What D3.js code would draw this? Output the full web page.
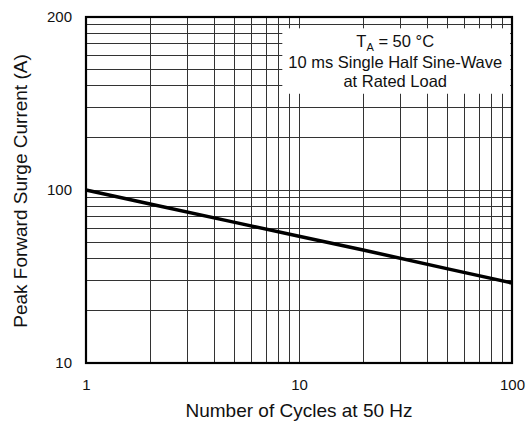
<!DOCTYPE html>
<html>
<head>
<meta charset="utf-8">
<script src="https://cdn.jsdelivr.net/npm/d3@7"></script>
<style>
  body { margin: 0; background: #fff; }
  text { font-family: "Liberation Sans", Arial, Helvetica, sans-serif; fill: #111; }
  .grid line { stroke: #333; stroke-width: 1; shape-rendering: crispEdges; }
</style>
</head>
<body>
<div id="chart"></div>
<script>
// surge curve
const cycles = [1, 2, 5, 10, 20, 50, 100];
const surgeCurrent = [100, 83, 65, 54, 45, 35, 29];

// axis ticks (the top label reads 200 on the original sheet)
const xTickValues = [1, 10, 100];
const xTickLabels = ["1", "10", "100"];
const yTickValues = [10, 100, 1000];
const yTickLabels = ["10", "100", "200"];

const noteLines = ["10 ms Single Half Sine-Wave", "at Rated Load"];

function renderChart() {
  const totalWidth = 527;
  const totalHeight = 421;
  const margin = { top: 17, right: 15, bottom: 58, left: 86 };
  const width = totalWidth - margin.left - margin.right;
  const height = totalHeight - margin.top - margin.bottom;

  const root = d3
    .select("#chart")
    .append("svg")
    .attr("width", totalWidth)
    .attr("height", totalHeight);

  const svg = root
    .append("g")
    .attr("transform", `translate(${margin.left},${margin.top})`);

  // Scales
  const x = d3.scaleLog().domain([1, 100]).range([0, width]);
  const y = d3.scaleLog().domain([10, 1000]).range([height, 0]);

  // minor + major grid, every integer step of each decade
  const xGrid = [];
  for (let d = 1; d < 100; d *= 10) {
    for (let k = 2; k <= 9; k++) xGrid.push(k * d);
  }
  xGrid.push(10);
  const yGrid = [];
  for (let d = 10; d < 1000; d *= 10) {
    for (let k = 2; k <= 9; k++) yGrid.push(k * d);
  }
  yGrid.push(100);

  svg
    .append("g")
    .attr("class", "grid")
    .selectAll("line")
    .data(xGrid)
    .enter()
    .append("line")
    .attr("x1", (d) => x(d))
    .attr("x2", (d) => x(d))
    .attr("y1", 0)
    .attr("y2", height);

  svg
    .append("g")
    .attr("class", "grid")
    .selectAll("line")
    .data(yGrid)
    .enter()
    .append("line")
    .attr("x1", 0)
    .attr("x2", width)
    .attr("y1", (d) => y(d))
    .attr("y2", (d) => y(d));

  // Note box (white patch over the grid)
  const boxX0 = x(8.35), boxX1 = x(98);
  const boxY0 = y(860), boxY1 = y(360);
  svg
    .append("rect")
    .attr("x", boxX0)
    .attr("y", boxY0)
    .attr("width", boxX1 - boxX0)
    .attr("height", boxY1 - boxY0)
    .attr("fill", "#fff");

  const noteX = (boxX0 + boxX1) / 2 - 1;
  const t1 = svg
    .append("text")
    .attr("x", noteX)
    .attr("y", boxY0 + 19)
    .attr("text-anchor", "middle")
    .attr("font-size", 16.5);
  t1.append("tspan").text("T");
  t1.append("tspan").attr("font-size", 11).attr("dy", 4).text("A");
  t1.append("tspan").attr("dy", -4).text(" = 50 °C");

  svg
    .selectAll(".note")
    .data(noteLines)
    .enter()
    .append("text")
    .attr("class", "note")
    .attr("x", noteX)
    .attr("y", (d, i) => boxY0 + 40 + i * 19)
    .attr("text-anchor", "middle")
    .attr("font-size", 16.5)
    .text((d) => d);

  // Curve
  const line = d3
    .line()
    .x((d) => x(d[0]))
    .y((d) => y(d[1]));

  svg
    .append("path")
    .datum(cycles.map((c, i) => [c, surgeCurrent[i]]))
    .attr("d", line)
    .attr("fill", "none")
    .attr("stroke", "#000")
    .attr("stroke-width", 3.5);

  // Frame
  svg
    .append("rect")
    .attr("x", 0)
    .attr("y", 0)
    .attr("width", width)
    .attr("height", height)
    .attr("fill", "none")
    .attr("stroke", "#000")
    .attr("stroke-width", 2.2);

  // Axes (labels only)
  const xAxis = svg
    .append("g")
    .attr("transform", `translate(0,${height})`)
    .call(
      d3
        .axisBottom(x)
        .tickValues(xTickValues)
        .tickSize(0)
        .tickPadding(16)
        .tickFormat((d, i) => xTickLabels[i])
    );
  xAxis.select(".domain").remove();
  xAxis.selectAll("text").attr("font-size", 15).attr("fill", "#111");

  const yAxis = svg
    .append("g")
    .call(
      d3
        .axisLeft(y)
        .tickValues(yTickValues)
        .tickSize(0)
        .tickPadding(14)
        .tickFormat((d, i) => yTickLabels[i])
    );
  yAxis.select(".domain").remove();
  yAxis.selectAll("text").attr("font-size", 15).attr("fill", "#111");

  // Axis titles
  svg
    .append("text")
    .attr("x", width / 2)
    .attr("y", height + 54)
    .attr("text-anchor", "middle")
    .attr("font-size", 19)
    .text("Number of Cycles at 50 Hz");

  svg
    .append("text")
    .attr("transform", "rotate(-90)")
    .attr("x", -(height / 2) - 1)
    .attr("y", -59)
    .attr("text-anchor", "middle")
    .attr("font-size", 19)
    .text("Peak Forward Surge Current (A)");
}

renderChart();
</script>
</body>
</html>
